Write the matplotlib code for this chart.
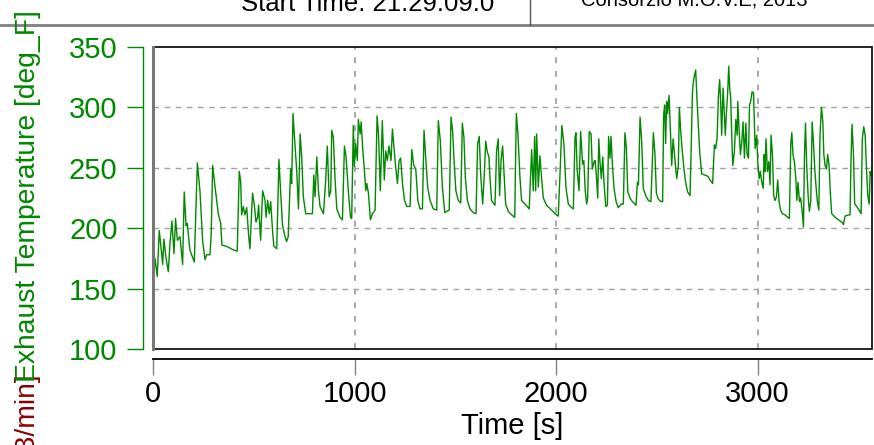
import matplotlib
matplotlib.use("Agg")
import matplotlib.pyplot as plt
from matplotlib.patches import Rectangle
from matplotlib.lines import Line2D

plt.rcParams['font.family'] = ['Liberation Sans', 'DejaVu Sans']

# exhaust temperature trace (time [s], deg F)
time_s = [
    0, 10, 21, 31, 43, 48, 54, 64, 76, 84, 94, 104, 112, 121, 134, 147, 155, 164, 170, 183,
    205, 220, 233, 246, 258, 266, 283, 289, 296, 308, 324, 336, 342, 365, 399, 418, 428, 435,
    440, 448, 456, 465, 475, 481, 494, 503, 511, 519, 524, 534, 544, 556, 561, 569, 577, 584,
    594, 600, 614, 625, 633, 643, 655, 663, 671, 683, 688, 695, 701,
    713, 722, 730, 738, 746, 758, 771, 791, 798, 804, 813, 821, 829, 846, 857, 865, 874, 882,
    887, 895, 903, 912, 928, 940, 950, 958, 970, 980, 986, 994, 999, 1006, 1014, 1019, 1028,
    1033, 1041, 1049, 1056, 1061, 1069, 1079, 1089, 1102, 1112, 1119, 1128, 1138, 1148, 1155,
    1163, 1171, 1181, 1188, 1196, 1204, 1213, 1221, 1229, 1238, 1248, 1259, 1276, 1284, 1294,
    1304, 1314, 1325, 1337, 1345, 1353, 1363, 1375, 1391, 1408, 1416, 1426, 1436, 1448,
    1470, 1479, 1487, 1493, 1503, 1515, 1527, 1535, 1543, 1550, 1560, 1573, 1589, 1603, 1611,
    1619, 1626, 1636, 1644, 1651, 1659, 1667, 1672, 1680, 1697, 1705, 1713, 1720, 1727, 1735,
    1742, 1750, 1763, 1780, 1795, 1803, 1811, 1821, 1829, 1846, 1867, 1879, 1887, 1894, 1899,
    1904, 1912, 1920, 1928, 1937, 1953, 1978, 1995, 2011, 2019, 2029, 2039, 2049, 2061, 2077,
    2086, 2094, 2099, 2105, 2114, 2122, 2132, 2138, 2145, 2152,
    2157, 2165, 2174, 2180, 2189, 2194, 2200, 2207, 2212, 2218, 2225, 2232, 2238, 2247, 2255,
    2261, 2268, 2273, 2280, 2288, 2298, 2309, 2323, 2334, 2342, 2349, 2356, 2367, 2379, 2397,
    2404, 2409, 2417, 2425, 2433, 2445, 2458, 2471, 2483, 2491, 2498, 2508, 2521, 2529, 2534,
    2539, 2544, 2549, 2554, 2561, 2567, 2574, 2581, 2587, 2594, 2599, 2607, 2612, 2619, 2627,
    2635, 2643, 2653, 2665, 2670, 2677, 2683, 2693, 2700, 2706, 2713, 2723, 2739, 2753, 2764,
    2777, 2786, 2792, 2799, 2806, 2812, 2817, 2822, 2829, 2835, 2840, 2845, 2852, 2857, 2862,
    2867, 2872, 2877,
    2885, 2892, 2899, 2902, 2908, 2915, 2922, 2928, 2935, 2942, 2948, 2955, 2960, 2966, 2973,
    2980, 2988, 2996, 3001, 3008, 3014, 3021, 3028, 3033, 3037, 3042, 3049, 3056, 3062, 3067,
    3074, 3080, 3087, 3094, 3100, 3107, 3114, 3123, 3137, 3150, 3158, 3165, 3170, 3176, 3183,
    3190, 3195, 3201, 3208, 3214, 3221, 3228, 3233, 3238, 3244, 3251, 3257, 3264, 3271, 3277,
    3284, 3291, 3297, 3304, 3310, 3317, 3324, 3329, 3335, 3342, 3348, 3355, 3362, 3368, 3385,
    3401, 3418, 3426, 3434, 3451, 3459, 3464, 3469, 3476, 3482, 3492, 3504, 3514, 3520, 3527,
    3534, 3540, 3547, 3554, 3559, 3563,
]
exhaust_temp = [
    153, 175, 160, 198, 179, 170, 191, 176, 164, 187, 206, 179, 208, 190, 193, 170, 230, 202, 204, 182,
    172, 254, 231, 190, 174, 178, 178, 196, 252, 234, 212, 204, 186, 185, 182, 181, 247, 239,
    211, 218, 211, 217, 193, 183, 229, 219, 205, 209, 219, 190, 231, 223, 209, 223, 212, 222,
    196, 185, 183, 257, 231, 202, 193, 189, 193, 249, 237, 295, 278,
    248, 216, 278, 259, 226, 212, 212, 212, 244, 226, 259, 231, 218, 212, 240, 268, 226, 231,
    281, 275, 242, 216, 209, 207, 268, 259, 229, 209, 208, 285, 251, 270, 256, 290, 278,
    288, 265, 248, 231, 237, 229, 207, 212, 215, 293, 278, 231, 289, 240, 264,
    256, 268, 256, 282, 267, 251, 237, 256, 258, 237, 223, 218, 218, 265, 252,
    249, 223, 216, 216, 281, 259, 234, 223, 216, 215, 289, 272, 234, 213,
    215, 292, 280, 259, 231, 223, 221, 287, 275, 242, 223, 216, 213, 212, 270,
    276, 245, 220, 244, 272, 263, 259, 242, 223, 219, 264, 274, 227, 256, 268,
    245, 220, 214, 211, 209, 295, 278, 242, 223, 220, 216, 265, 231, 276, 231,
    278, 234, 260, 242, 225, 219, 215, 212, 210, 242, 285, 270, 234, 220, 217,
    216, 275, 279, 248, 231, 280, 253, 256, 231, 220,
    225, 280, 278, 249, 255, 256, 244, 225, 274, 255, 241, 259, 238, 218, 219,
    276, 258, 276, 252, 233, 222, 217, 220, 220, 279, 267, 230, 225, 222, 219,
    238, 236, 292, 272, 233, 227, 223, 222, 279, 261, 229, 224, 222, 222, 294,
    302, 270, 305, 295, 310, 283, 252, 274, 263, 249, 241, 252, 300, 280, 263,
    249, 238, 230, 227, 261, 313, 323, 331, 305, 285, 263, 245, 244, 243, 240,
    237, 269, 266, 274, 310, 323, 305, 277, 316, 295, 277, 294, 313, 334, 316,
    307, 277, 252,
    263, 290, 277, 305, 283, 261, 272, 288, 258, 287, 261, 258, 302, 305, 313,
    312, 266, 277, 255, 241, 247, 238, 233, 261, 247, 274, 247, 255, 236, 277,
    261, 227, 223, 226, 240, 222, 215, 212, 211, 209, 208, 270, 279, 261, 255,
    241, 223, 238, 222, 225, 215, 201, 261, 287, 252, 227, 214, 222, 288, 272,
    249, 233, 222, 215, 277, 300, 288, 261, 252, 249, 261, 252, 227, 212, 209,
    207, 205, 203, 210, 211, 211, 258, 286, 261, 220, 218, 215, 212, 274, 284,
    277, 252, 227, 220, 247, 244,
]

x_ticks = [0, 1000, 2000, 3000]
y_ticks = [100, 150, 200, 250, 300, 350]
x_max = 3568

W, H = 874, 445
green = '#008800'


def fx(px):
    return px / W


def fy(py):
    return 1 - py / H


fig = plt.figure(figsize=(W / 100, H / 100), dpi=100)
ax = fig.add_axes([fx(153), fy(349), fx(872) - fx(153), fy(47) - fy(349)])

ax.plot(time_s, exhaust_temp, color=green, lw=1.0, zorder=3)
ax.set_xlim(0, x_max)
ax.set_ylim(100, 350)

# dashed grid
for v in [150, 200, 250, 300]:
    ax.axhline(v, color='#a0a0a0', lw=1, dashes=(4, 4), zorder=1)
for t in [1000, 2000, 3000]:
    ax.axvline(t, color='#a8a8a8', lw=1.4, dashes=(3, 4), zorder=1)

# box around the plot
ax.add_patch(Rectangle((0, 0), 1, 1, transform=ax.transAxes, fill=False,
                       edgecolor='black', lw=1.2, zorder=4, clip_on=False))
ax.plot([0, 0], [0, 1], transform=ax.transAxes, color='#777777', lw=2.2,
        zorder=5, clip_on=False)

# separate axis lines, R style
for s in ['top', 'right']:
    ax.spines[s].set_visible(False)
ax.spines['left'].set_position(('outward', 7))
ax.spines['left'].set_color(green)
ax.spines['left'].set_linewidth(1)
ax.spines['bottom'].set_position(('outward', 7))
ax.spines['bottom'].set_color('black')
ax.spines['bottom'].set_linewidth(1.3)

ax.set_yticks(y_ticks)
ax.set_xticks(x_ticks)
ax.tick_params(axis='y', colors=green, labelcolor=green, length=11.5, width=1,
               labelsize=21, pad=7)
ax.tick_params(axis='x', colors='#808080', labelcolor='black', length=11.5, width=1,
               labelsize=21, pad=4)

fig.text(fx(512), fy(434), 'Time [s]', fontsize=21, ha='center', va='baseline')
fig.text(fx(28), fy(374), 'Exhaust Flow Rate [m3/min]', fontsize=20.3, color='#8b0000',
         rotation=90, rotation_mode='anchor', ha='right', va='center', zorder=1)
fig.text(fx(28), fy(196), 'Exhaust Temperature [deg_F]', fontsize=20.3, color=green,
         rotation=90, ha='center', va='center', zorder=2)

# header strip
fig.add_artist(Line2D([0, 1], [fy(25), fy(25)], color='#808080', lw=2))
fig.add_artist(Line2D([fx(530), fx(530)], [fy(25), 1], color='#555555', lw=1))
fig.text(fx(368), fy(11), 'Start Time: 21:29:09.0', fontsize=18.5, ha='center',
         va='baseline')
fig.text(fx(694), fy(5), 'Consorzio M.O.V.E, 2013', fontsize=14.5, ha='center',
         va='baseline')

fig.savefig('out.png', dpi=100)
